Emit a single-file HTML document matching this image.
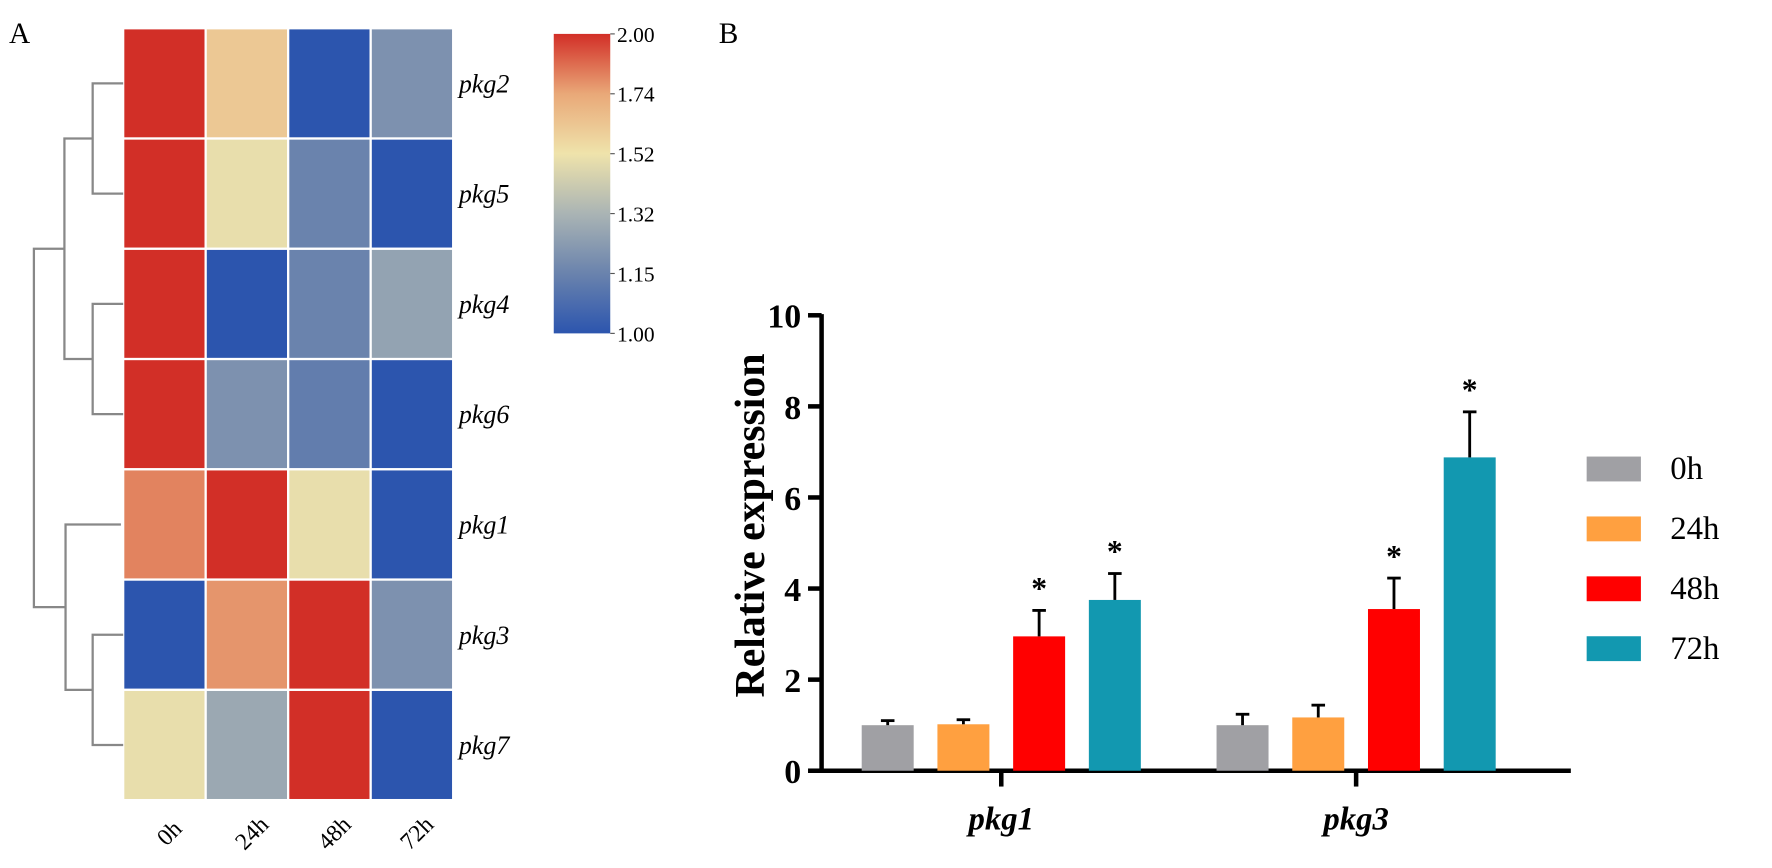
<!DOCTYPE html>
<html><head><meta charset="utf-8"><style>
html,body{margin:0;padding:0;background:#fff;}
svg text{font-family:"Liberation Serif",serif;}
</style></head><body>
<svg id="fig" width="1772" height="863" xmlns="http://www.w3.org/2000/svg">
<g transform="scale(1.1301)">
<text x="8" y="38" font-size="26">A</text>
<text x="636" y="38" font-size="26">B</text>
<g id="heat"></g>
<g id="dendro" stroke="#888" stroke-width="2" fill="none"></g>
<g id="cbar"></g>
<g id="bars"></g>
</g>
</svg>
<script>
const genes = ["pkg2","pkg5","pkg4","pkg6","pkg1","pkg3","pkg7"];
const times = ["0h","24h","48h","72h"];
const heatValues = [
 [2.0,1.62,1.0,1.2],
 [2.0,1.5,1.15,1.0],
 [2.0,1.0,1.15,1.26],
 [2.0,1.2,1.13,1.0],
 [1.82,2.0,1.5,1.0],
 [1.0,1.78,2.0,1.2],
 [1.5,1.28,2.0,1.0]
];
const cbarTicks = ["2.00","1.74","1.52","1.32","1.15","1.00"];
const cbarTickVals = [2.0,1.74,1.52,1.32,1.15,1.0];
const cbarColors = ["#d22f27","#e9a878","#efe3ab","#aab4b4","#6a83ad","#2c55ae"];

const groups = ["pkg1","pkg3"];
const series = ["0h","24h","48h","72h"];
const seriesColors = ["#a0a0a4","#ffa040","#ff0000","#1298b0"];
const pkg1Vals = [1.0,1.02,2.95,3.75];
const pkg3Vals = [1.0,1.17,3.55,6.88];
const pkg1Err = [0.1,0.1,0.57,0.58];
const pkg3Err = [0.24,0.27,0.68,1.0];
const pkg1Sig = [false,false,true,true];
const pkg3Sig = [false,false,true,true];
const yTicks = [0,2,4,6,8,10];

const NS="http://www.w3.org/2000/svg";
function mk(tag,attrs,parent,txt){const e=document.createElementNS(NS,tag);for(const k in attrs)e.setAttribute(k,attrs[k]);if(txt!==undefined)e.textContent=txt;parent.appendChild(e);return e;}
function hex(h){return [1,3,5].map(i=>parseInt(h.substr(i,2),16));}
function colorFor(v){
  for(let i=0;i<cbarTickVals.length-1;i++){
    const a=cbarTickVals[i],b=cbarTickVals[i+1];
    if(v<=a&&v>=b){const t=(a-v)/(a-b);const c1=hex(cbarColors[i]),c2=hex(cbarColors[i+1]);
      return "rgb("+c1.map((c,j)=>Math.round(c+(c2[j]-c)*t)).join(",")+")";}
  }
  return v>2?cbarColors[0]:cbarColors[cbarColors.length-1];
}
// heatmap
const hx0=109,hx1=401,hy0=25,hy1=708;
const cw=(hx1-hx0)/times.length, ch=(hy1-hy0)/genes.length;
const heat=document.getElementById('heat');
const rowY=i=>hy0+i*ch, colX=j=>hx0+j*cw;
genes.forEach((g,i)=>{
  times.forEach((t,j)=>{
    const r=mk('rect',{x:colX(j),y:rowY(i),width:cw,height:ch,fill:colorFor(heatValues[i][j]),stroke:"#fff","stroke-width":2},heat);
    
    
  });
  const tx=mk('text',{x:hx1+5,y:rowY(i)+ch/2+8,"font-size":23,"font-style":"italic"},heat,g);
  
  
});
times.forEach((t,j)=>{
  const cx=colX(j)+cw/2+5, cy=hy1+44;
  const tx=mk('text',{x:cx,y:cy,"font-size":21,"text-anchor":"middle",transform:"rotate(-45 "+(cx-10)+" "+(cy-10)+")"},heat,t);
  
  
});
// dendrogram
const d=document.getElementById('dendro');
const rc=i=>rowY(i)+ch/2;
function link(xj,ya,yb,xa,xb){mk('path',{d:`M${xa} ${ya}H${xj}V${yb}H${xb}`},d);}
link(82,rc(0),rc(1),hx0,hx0);
link(82,rc(2),rc(3),hx0,hx0);
const m01=(rc(0)+rc(1))/2, m23=(rc(2)+rc(3))/2;
link(57,m01,m23,82,82);
link(82,rc(5),rc(6),hx0,hx0);
const m56=(rc(5)+rc(6))/2;
link(58,rc(4),m56,hx0-2,82);
const mt=(m01+m23)/2, mb=(rc(4)+m56)/2;
link(30,mt,mb,57,58);
// colorbar
const cb=document.getElementById('cbar');
const cbx=490,cby0=30,cby1=295,cbw=50;
const defs=mk('defs',{},cb);
const grad=mk('linearGradient',{id:'cg',x1:0,y1:0,x2:0,y2:1},defs);
cbarColors.forEach((c,i)=>mk('stop',{offset:(i/(cbarColors.length-1)),"stop-color":c},grad));
mk('rect',{x:cbx,y:cby0,width:cbw,height:cby1-cby0,fill:"url(#cg)"},cb);
cbarTicks.forEach((t,i)=>{
  const y=cby0+i*(cby1-cby0)/(cbarTicks.length-1);
  mk('line',{x1:cbx+cbw,x2:cbx+cbw+4,y1:y,y2:y,stroke:"#555"},cb);
  const tx=mk('text',{x:cbx+cbw+6,y:y+7,"font-size":19},cb,t);
  
  
});
// bar chart
const b=document.getElementById('bars');
const ax=727, y0=682, y10=279;
const yS=v=>y0-(y0-y10)*v/10;
const groupCenters=[886,1200];
const barW=46, barStep=67;
mk('line',{x1:ax,x2:ax,y1:y10-1,y2:y0+2,stroke:"#000","stroke-width":4},b);
mk('line',{x1:ax-2,x2:1390,y1:y0,y2:y0,stroke:"#000","stroke-width":4},b);
yTicks.forEach(t=>{
  const y=yS(t);
  mk('line',{x1:ax-12,x2:ax,y1:y,y2:y,stroke:"#000","stroke-width":4},b);
  const tx=mk('text',{x:ax-18,y:y+11,"font-size":30,"font-weight":"bold","text-anchor":"end"},b,String(t));
  
  
});
const yt=mk('text',{x:0,y:0,"font-size":37,"font-weight":"bold","text-anchor":"middle",transform:"translate(676 465) rotate(-90)"},b,"Relative expression");


const vals=[pkg1Vals,pkg3Vals], errs=[pkg1Err,pkg3Err], sigs=[pkg1Sig,pkg3Sig];
groups.forEach((g,gi)=>{
  const gc=groupCenters[gi];
  mk('line',{x1:gc,x2:gc,y1:y0,y2:y0+14,stroke:"#000","stroke-width":4},b);
  const tx=mk('text',{x:gc,y:y0+52,"font-size":29,"font-weight":"bold","font-style":"italic","text-anchor":"middle"},b,g);
  
  
  series.forEach((s,si)=>{
    const cx=gc+(si-1.5)*barStep;
    const v=vals[gi][si], e=errs[gi][si];
    const r=mk('rect',{x:cx-barW/2,y:yS(v),width:barW,height:y0-yS(v),fill:seriesColors[si]},b);
    
    
    mk('line',{x1:cx,x2:cx,y1:yS(v),y2:yS(v+e),stroke:"#000","stroke-width":2.5},b);
    mk('line',{x1:cx-6,x2:cx+6,y1:yS(v+e),y2:yS(v+e),stroke:"#000","stroke-width":2.5},b);
    if(sigs[gi][si]){
      const st=mk('text',{x:cx,y:yS(v+e)-10,"font-size":28,"font-weight":"bold","text-anchor":"middle"},b,"*");
      
      
    }
  });
});
series.forEach((s,si)=>{
  const y=414+si*53;
  const r=mk('rect',{x:1404,y:y-10,width:48,height:22,fill:seriesColors[si]},b);
  
  
  const tx=mk('text',{x:1478,y:y+10,"font-size":29},b,s);
  
  
});
</script>
</body></html>
